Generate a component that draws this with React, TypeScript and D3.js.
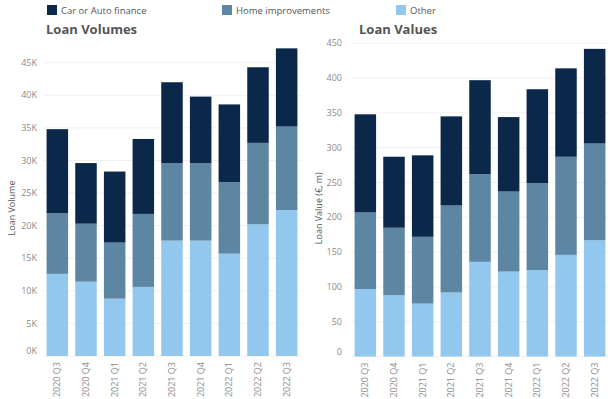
import React from "react";
import * as d3 from "d3";

const quarters = ["2020 Q3", "2020 Q4", "2021 Q1", "2021 Q2", "2021 Q3", "2021 Q4", "2022 Q1", "2022 Q2", "2022 Q3"];
const seriesNames = ["Other", "Home improvements", "Car or Auto finance"];
const legendOrder = ["Car or Auto finance", "Home improvements", "Other"];
const colors: Record<string, string> = {
  "Car or Auto finance": "#0b2749",
  "Home improvements": "#5d86a2",
  "Other": "#93c8ee",
};

// Loan volumes (counts)
const volOther = [12600, 11400, 8800, 10600, 17700, 17700, 15700, 20200, 22400];
const volHome = [9300, 8900, 8600, 11200, 11900, 11900, 11000, 12500, 12800];
const volCar = [12900, 9300, 10900, 11500, 12400, 10200, 11900, 11600, 12000];

// Loan values (€ m)
const valOther = [97, 88, 76, 92, 136, 122, 124, 146, 167];
const valHome = [110, 97, 96, 125, 126, 115, 125, 141, 139];
const valCar = [141, 102, 117, 128, 135, 107, 135, 127, 136];

const volTicks = [0, 5000, 10000, 15000, 20000, 25000, 30000, 35000, 40000, 45000];
const valTicks = [0, 50, 100, 150, 200, 250, 300, 350, 400, 450];

const FONT = "'Open Sans', 'Noto Sans', sans-serif";

type PanelProps = {
  title: string;
  yLabel: string;
  other: number[];
  home: number[];
  car: number[];
  ticks: number[];
  tickFmt: (v: number) => string;
  x0: number;
  x1: number;
  yTop: number;
  yTopVal: number;
  yBottom: number;
  titleX: number;
  tickX: number;
  yLabelX: number;
};

function Panel(p: PanelProps) {
  const rows = quarters.map((q, i) => ({
    q,
    Other: p.other[i],
    "Home improvements": p.home[i],
    "Car or Auto finance": p.car[i],
  }));
  const stack = d3.stack<any>().keys(seriesNames)(rows);
  const x = d3.scaleBand<string>().domain(quarters).range([p.x0, p.x1]).paddingInner(0.25).paddingOuter(0.125);
  const y = d3.scaleLinear().domain([0, p.yTopVal]).range([p.yBottom, p.yTop]);
  const midY = (p.yBottom + 60) / 2;
  return (
    <g>
      <text x={p.titleX} y={34} fontFamily={FONT} fontSize={13} fontWeight={700} fill="#555">{p.title}</text>
      {p.ticks.map((t, i) => (
        <g key={t}>
          <line x1={p.x0} x2={p.x1} y1={y(t)} y2={y(t)} stroke="#f0f0f0" strokeWidth={1} />
          <text
            x={p.tickX}
            y={i === 0 ? y(t) - 5 : y(t)}
            dy="0.35em"
            textAnchor="end"
            fontFamily={FONT}
            fontSize={9}
            fill="#8a8a8a"
          >
            {p.tickFmt(t)}
          </text>
        </g>
      ))}
      <text
        transform={`translate(${p.yLabelX},${midY}) rotate(-90)`}
        textAnchor="middle"
        fontFamily={FONT}
        fontSize={9}
        fill="#555"
      >
        {p.yLabel}
      </text>
      {stack.map((s) => (
        <g key={s.key} fill={colors[s.key]}>
          {s.map((d, i) => (
            <rect
              key={i}
              x={x(quarters[i])}
              width={x.bandwidth()}
              y={y(d[1])}
              height={y(d[0]) - y(d[1])}
            />
          ))}
        </g>
      ))}
      {quarters.map((q) => (
        <text
          key={q}
          transform={`translate(${(x(q) as number) + x.bandwidth() / 2},${p.yBottom + 6}) rotate(-90)`}
          textAnchor="end"
          dy="0.35em"
          fontFamily={FONT}
          fontSize={9}
          fill="#8a8a8a"
        >
          {q}
        </text>
      ))}
    </g>
  );
}

export default function App() {
  const legendX = [47, 222, 396];
  return (
    <svg width={614} height={399} style={{ position: "absolute", left: 0, top: 0, background: "#fff" }}>
      {legendOrder.map((k, i) => (
        <g key={k}>
          <rect x={legendX[i]} y={5} width={10} height={10} fill={colors[k]} />
          <text x={legendX[i] + 14} y={14} fontFamily={FONT} fontSize={9.5} fill="#555">{k}</text>
        </g>
      ))}
      <Panel
        title="Loan Volumes"
        yLabel="Loan Volume"
        other={volOther}
        home={volHome}
        car={volCar}
        ticks={volTicks}
        tickFmt={(v) => `${v / 1000}K`}
        x0={43}
        x1={301}
        yTop={62.7}
        yTopVal={45000}
        yBottom={356}
        titleX={46}
        tickX={37}
        yLabelX={15}
      />
      <Panel
        title="Loan Values"
        yLabel="Loan Value (€, m)"
        other={valOther}
        home={valHome}
        car={valCar}
        ticks={valTicks}
        tickFmt={(v) => `${v}`}
        x0={351}
        x1={609}
        yTop={43.3}
        yTopVal={450}
        yBottom={356.5}
        titleX={359}
        tickX={342}
        yLabelX={322}
      />
    </svg>
  );
}
